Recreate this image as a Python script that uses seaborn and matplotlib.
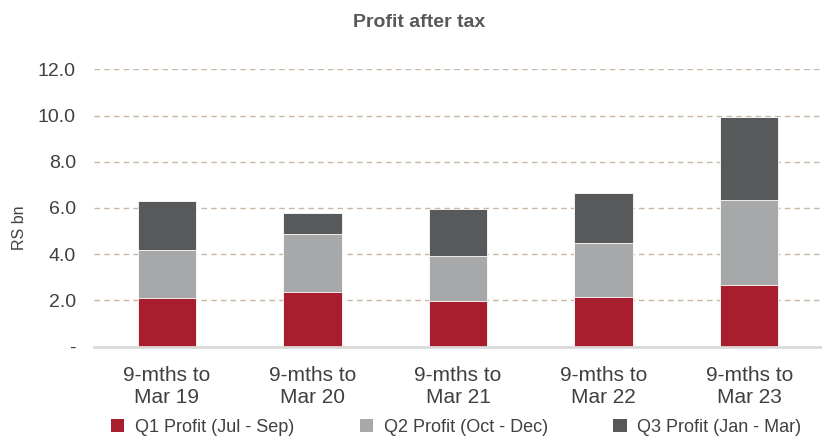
import numpy as np
import pandas as pd
import matplotlib
matplotlib.use("Agg")
import matplotlib.pyplot as plt
from matplotlib.patches import Patch
import seaborn as sns

# data (RS bn)
periods = ["9-mths to\nMar 19", "9-mths to\nMar 20", "9-mths to\nMar 21",
           "9-mths to\nMar 22", "9-mths to\nMar 23"]
q1 = [2.09, 2.34, 1.98, 2.16, 2.67]
q2 = [2.08, 2.55, 1.92, 2.34, 3.66]
q3 = [2.14, 0.87, 2.07, 2.16, 3.60]
series_names = ["Q1 Profit (Jul - Sep)", "Q2 Profit (Oct - Dec)", "Q3 Profit (Jan - Mar)"]
colors = ["#A81E2F", "#A7A8AA", "#58595B"]
yticks = [0, 2, 4, 6, 8, 10, 12]
ytick_labels = ["-", "2.0", "4.0", "6.0", "8.0", "10.0", "12.0"]

sns.set_style("white")
plt.rcParams['font.family'] = ['Liberation Sans', 'DejaVu Sans']

df = pd.DataFrame({"period": periods, "q1": q1, "q2": q2, "q3": q3})
df["c1"] = df["q1"]
df["c2"] = df["q1"] + df["q2"]
df["c3"] = df["c2"] + df["q3"]

fig = plt.figure(figsize=(8.22, 4.38), dpi=100)
ax = fig.add_axes([94 / 822, 1 - 346.5 / 438, 728 / 822, (346.5 - 69.3) / 438])

# stacked bars: draw cumulative totals from top down
for col, c in zip(["c3", "c2", "c1"], colors[::-1]):
    sns.barplot(data=df, x="period", y=col, color=c, saturation=1, width=0.4,
                edgecolor="white", linewidth=0.6, ax=ax, zorder=3)

ax.set_ylim(0, 12)
ax.set_xlim(-0.5, 4.5)
ax.set_yticks(yticks)
ax.set_yticklabels(ytick_labels)
ax.yaxis.grid(True, color="#C9B8A8", linestyle=(0, (4, 3)), linewidth=1.0, zorder=0)
ax.xaxis.grid(False)
ax.set_axisbelow(True)
for s in ["top", "right", "left"]:
    ax.spines[s].set_visible(False)
ax.spines["bottom"].set_color("#D9D9D9")
ax.spines["bottom"].set_linewidth(2)
ax.spines["bottom"].set_zorder(4)
ax.tick_params(axis="y", length=0, labelsize=14, colors="#404040", pad=13)
ax.tick_params(axis="x", length=0, labelsize=15, colors="#404040", pad=14)
for lab in ax.get_xticklabels():
    lab.set_linespacing(1.2)
ax.set_xlabel("")
ax.set_ylabel("RS bn", fontsize=11.5, color="#404040")
ax.yaxis.set_label_coords(-0.092, 0.43)

fig.text(0.51, 0.948, "Profit after tax", ha="center", va="center",
         fontsize=14, fontweight="bold", color="#595959")

handles = [Patch(facecolor=c, edgecolor="none") for c in colors]
fig.legend(handles, series_names, loc="center", bbox_to_anchor=(0.555, 0.025),
           ncol=3, frameon=False, fontsize=13, handlelength=0.75, handleheight=0.75,
           columnspacing=3.6, handletextpad=0.6, labelcolor="#404040",
           borderpad=0.2)

fig.savefig("out.png", dpi=100)
